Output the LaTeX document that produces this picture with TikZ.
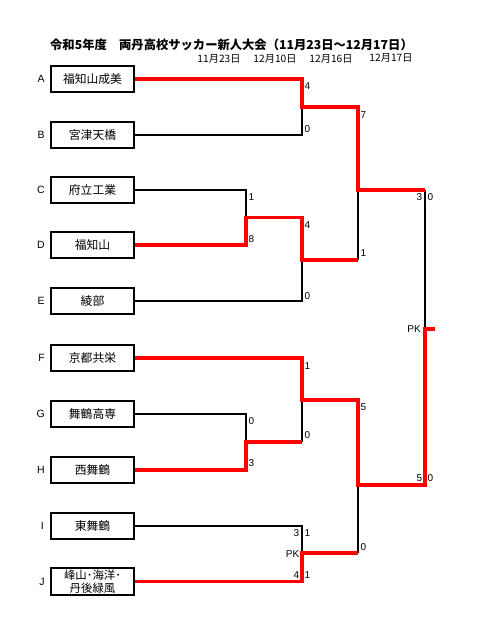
\documentclass[tikz,border=0pt]{standalone}
\usepackage{fontspec}
\setmainfont{Liberation Sans}
\newfontfamily\jp{Noto Sans CJK JP}
\usetikzlibrary{positioning}

\begin{document}
\begin{tikzpicture}[
  x=1pt, y=-1pt,
  team/.style={draw, line width=1.7pt, minimum width=83.5pt, minimum height=26.5pt,
               inner sep=0pt, align=center, font=\jp\fontsize{11.8}{13.3}\selectfont},
  seed/.style={font=\fontsize{10.5}{12}\selectfont, inner sep=0pt},
  loss/.style={draw, line width=1.4pt},
  win/.style={draw=red, line width=3.6pt},
  score/.style={font=\fontsize{10}{10}\selectfont, inner sep=0pt},
  day/.style={font=\jp\fontsize{10.2}{12}\selectfont, inner sep=0pt}
]
\useasboundingbox (0,0) rectangle (501,628);

%% ── Heading ───────────────────────────────────────────────────────────────────

\node[font=\jp\bfseries\fontsize{12.3}{14}\selectfont] (title) at (231.5,45)
  {令和5年度　両丹高校サッカー新人大会（11月23日～12月17日）};

\node[day] (day1) at (219,59) {11月23日};
\node[day] (day2) at (275,59) {12月10日};
\node[day] (day3) at (331,59) {12月16日};
\node[day] (day4) at (391,58) {12月17日};

%% ── Teams ─────────────────────────────────────────────────────────────────────

\node[team] (tA) at (92.5,79)    {福知山成美};
\node[team] (tB) at (92.5,135)   {宮津天橋};
\node[team] (tC) at (92.5,190)   {府立工業};
\node[team] (tD) at (92.5,245)   {福知山};
\node[team] (tE) at (92.5,301)   {綾部};
\node[team] (tF) at (92.5,358)   {京都共栄};
\node[team] (tG) at (92.5,414)   {舞鶴高専};
\node[team] (tH) at (92.5,470)   {西舞鶴};
\node[team] (tI) at (92.5,526)   {東舞鶴};
\node[team, font=\jp\fontsize{11.4}{13.3}\selectfont] (tJ) at (92.5,581.5) {峰山･海洋･\\丹後緑風};

\node[seed, left=5pt of tA] (sA) {A};
\node[seed, left=5pt of tB] (sB) {B};
\node[seed, left=5pt of tC] (sC) {C};
\node[seed, left=5pt of tD] (sD) {D};
\node[seed, left=5pt of tE] (sE) {E};
\node[seed, left=5pt of tF] (sF) {F};
\node[seed, left=5pt of tG] (sG) {G};
\node[seed, left=5pt of tH] (sH) {H};
\node[seed, left=6pt of tI] (sI) {I};
\node[seed, left=5pt of tJ] (sJ) {J};

%% ── Bracket joints ────────────────────────────────────────────────────────────

% 11/23
\coordinate (mCD) at (246,217.5);
\coordinate (mGH) at (246,441.7);
% 12/10
\coordinate (mAB) at (302,107);
\coordinate (mCE) at (302,260);
\coordinate (mFH) at (302,400);
\coordinate (mIJ) at (302,553);
% 12/16
\coordinate (mAE) at (358,190);
\coordinate (mFJ) at (358,485);
% 12/17
\coordinate (mfin) at (425,329);

%% ── Losing lines ──────────────────────────────────────────────────────────────

\draw[loss] (tB.east) -| (mAB);
\draw[loss] (tC.east) -| (mCD);
\draw[loss] (tE.east) -| (mCE);
\draw[loss] (tG.east) -| (mGH);
\draw[loss] (tI.east) -| (mIJ);
\draw[loss] (mFH) -- (mFH |- mGH);
\draw[loss] (mAE) -- (mAE |- mCE);
\draw[loss] (mFJ) -- (mFJ |- mIJ);
\draw[loss] (mAE -| mfin) -- (mfin);

%% ── Winning lines ─────────────────────────────────────────────────────────────

\draw[win] (tA.east) -| (mAB) -| (mAE) -- (mAE -| mfin);
\draw[win] (tD.east) -| (mCD) -| (mCE) -- (mCE -| mAE);
\draw[win] (tF.east) -| (mFH) -| (mFJ) -| (mfin) -- ++(10,0);
\draw[win] (tH.east) -| (mGH) -- (mGH -| mFH);
\draw[win] (tJ.east) -| (mIJ) -- (mIJ -| mFJ);

%% ── Scores ────────────────────────────────────────────────────────────────────

% 11/23
\node[score, anchor=west] (scC) at (248.5,196.7) {1};
\node[score, anchor=west] (scD) at (248.5,239.3) {8};
\node[score, anchor=west] (scG) at (248.5,420.7) {0};
\node[score, anchor=west] (scH) at (248.5,463.3) {3};

% 12/10
\node[score, anchor=west] (scA)  at (304.5,86)    {4};
\node[score, anchor=west] (scB)  at (304.5,129.3) {0};
\node[score, anchor=west] (scCD) at (304.5,225)   {4};
\node[score, anchor=west] (scE)  at (304.5,296)   {0};
\node[score, anchor=west] (scF)  at (304.5,365.7) {1};
\node[score, anchor=west] (scGH) at (304.5,435)   {0};
\node[score, anchor=east] (scI)  at (299.5,532.7) {3};
\node[score, anchor=west] (pkI)  at (304.5,532.7) {1};
\node[score, anchor=east] (pkIJ) at (299.5,554)   {PK};
\node[score, anchor=east] (scJ)  at (299.5,575)   {4};
\node[score, anchor=west] (pkJ)  at (304.5,575)   {1};

% 12/16
\node[score, anchor=west] (scAB) at (360.5,115)   {7};
\node[score, anchor=west] (scCE) at (360.5,253.3) {1};
\node[score, anchor=west] (scFH) at (360.5,407.3) {5};
\node[score, anchor=west] (scIJ) at (360.5,547.3) {0};

% 12/17
\node[score, anchor=east] (scAE)  at (422.5,196.7) {3};
\node[score, anchor=west] (pkAE)  at (427.5,196.7) {0};
\node[score, anchor=east] (pkfin) at (421,329)     {PK};
\node[score, anchor=east] (scFJ)  at (422.5,477.7) {5};
\node[score, anchor=west] (pkFJ)  at (427.5,477.7) {0};

\end{tikzpicture}
\end{document}
